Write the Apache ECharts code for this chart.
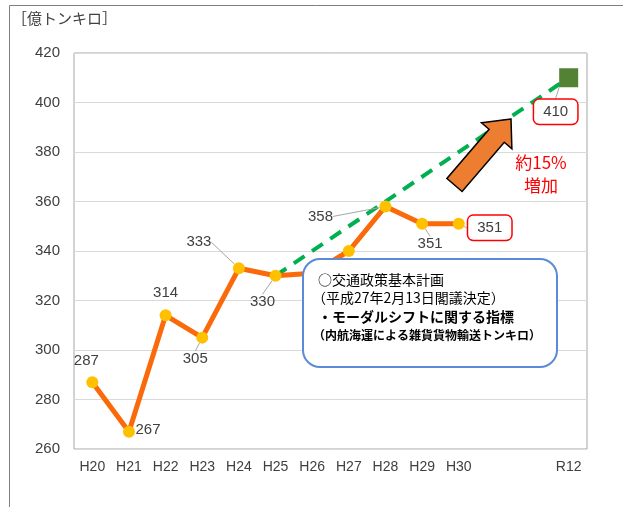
<!DOCTYPE html>
<html>
<head>
<meta charset="utf-8">
<style>
  html, body { margin: 0; padding: 0; background: #fff; }
  #chart { width: 623px; height: 507px; }
</style>
<script src="https://cdn.jsdelivr.net/npm/echarts@6/dist/echarts.min.js"></script>
</head>
<body>
<div id="chart"></div>
<script>
// Fiscal years (H = Heisei, R = Reiwa); two empty slots keep R12 spaced apart
const categories = ['H20', 'H21', 'H22', 'H23', 'H24', 'H25', 'H26', 'H27', 'H28', 'H29', 'H30', '', '', 'R12'];
// Coastal shipping of general cargo, 100 million ton-km
const actual = [287, 267, 314, 305, 333, 330, 331, 340, 358, 351, 351, '-', '-', '-'];
// Target path from H25 to R12
const target = ['-', '-', '-', '-', '-', 330, '-', '-', '-', '-', '-', '-', '-', 410];
const yTicks = { min: 260, max: 420, interval: 20 };

const unitLabel = '［億トンキロ］';
const noteLines = [
  '○交通政策基本計画',
  '（平成27年2月13日閣議決定）',
  '・モーダルシフトに関する指標',
  '（内航海運による雑貨貨物輸送トンキロ）'
];
const growthText = ['約15%', '増加'];

// label placement for the actual series: [dx, dy, leader line]
const labelPlace = {
  0: [-6, -21, false],
  1: [19, -2, false],
  2: [0, -22, false],
  3: [-7, 21, true],
  4: [-40, -26, true],
  5: [-13, 26, true],
  8: [-65, 10, true],
  9: [8, 20, true],
  10: [31, 4, true]
};

const FONT = 'Liberation Sans, Arial, sans-serif';
const CJK = 'Noto Sans CJK JP, sans-serif';

const boxedLabel = {
  show: true,
  borderColor: '#ff0000',
  borderWidth: 1.5,
  borderRadius: 5,
  padding: [5, 9, 4, 9],
  backgroundColor: '#fff'
};

const chart = echarts.init(document.getElementById('chart'));

const actualData = actual.map((v, i) => {
  const p = labelPlace[i];
  const item = { value: v };
  if (p) {
    item.label = i === 10 ? boxedLabel : { show: true };
    item.labelLine = { show: p[2] };
  } else {
    item.label = { show: false };
  }
  return item;
});

const targetData = target.map((v, i) => {
  if (i === 13) {
    return {
      value: v,
      symbol: 'rect',
      symbolSize: 19,
      itemStyle: { color: '#548235' },
      label: boxedLabel,
      labelLine: { show: true }
    };
  }
  return { value: v, symbol: 'none' };
});

chart.setOption({
  animation: false,
  backgroundColor: '#fff',
  grid: {
    left: 74, right: 36, top: 53, bottom: 58,
    show: true, borderColor: '#a6a6a6', borderWidth: 1, backgroundColor: '#fff'
  },
  xAxis: {
    type: 'category',
    data: categories,
    boundaryGap: true,
    axisLine: { show: false },
    axisTick: { show: false },
    axisLabel: { color: '#404040', fontSize: 14, fontFamily: FONT, margin: 11, interval: 0 }
  },
  yAxis: {
    type: 'value',
    min: yTicks.min, max: yTicks.max, interval: yTicks.interval,
    axisLine: { show: false },
    axisTick: { show: false },
    splitLine: { lineStyle: { color: '#d9d9d9', width: 1 } },
    axisLabel: { color: '#404040', fontSize: 15, fontFamily: FONT, margin: 14 }
  },
  series: [
    {
      name: 'target',
      type: 'line',
      data: targetData,
      connectNulls: true,
      z: 2,
      lineStyle: { color: '#00b050', width: 4, type: [13, 9] },
      label: { color: '#404040', fontSize: 15, fontFamily: FONT, position: 'inside' },
      labelLine: { show: true, lineStyle: { color: '#a6a6a6', width: 1 } },
      labelLayout: function () {
        return { dx: -13, dy: 34 };
      }
    },
    {
      name: 'actual',
      type: 'line',
      data: actualData,
      z: 3,
      symbol: 'circle',
      symbolSize: 12,
      showAllSymbol: true,
      lineStyle: { color: '#fa6a0a', width: 5 },
      itemStyle: { color: '#ffc000', borderWidth: 0 },
      label: { color: '#404040', fontSize: 15, fontFamily: FONT, position: 'inside' },
      labelLine: { show: true, lineStyle: { color: '#a6a6a6', width: 1 } },
      labelLayout: function (p) {
        const pl = labelPlace[p.dataIndex];
        return pl ? { dx: pl[0], dy: pl[1] } : {};
      }
    }
  ]
});

// arrow and note box drawn on top of the plot
function arrowPoints(tip, tail, headLen, headHalf, shaftHalf) {
  const dx = tip[0] - tail[0], dy = tip[1] - tail[1];
  const len = Math.sqrt(dx * dx + dy * dy);
  const d = [dx / len, dy / len];
  const n = [-d[1], d[0]];
  const h = [tip[0] - headLen * d[0], tip[1] - headLen * d[1]];
  const at = (base, k) => [base[0] + k * n[0], base[1] + k * n[1]];
  return [tip, at(h, -headHalf), at(h, -shaftHalf), at(tail, -shaftHalf),
          at(tail, shaftHalf), at(h, shaftHalf), at(h, headHalf)];
}

chart.setOption({
  graphic: [
    // outer frame
    { type: 'polyline', z: 1, shape: { points: [[9.5, 507], [9.5, 5.5], [623, 5.5]] },
      style: { stroke: '#7f7f7f', lineWidth: 1, fill: null } },
    { type: 'text', x: 12, y: 11, z: 10,
      style: { text: unitLabel, fill: '#404040', font: '15px ' + CJK } },
    { type: 'polygon', z: 20,
      shape: { points: arrowPoints([511, 119], [454.5, 185], 22, 20, 10) },
      style: { fill: '#ed7d31', stroke: '#000', lineWidth: 1.5 } },
    { type: 'text', x: 541, y: 163, z: 20,
      style: { text: growthText[0], fill: '#ff0000', font: '17px ' + CJK, align: 'center', verticalAlign: 'middle' } },
    { type: 'text', x: 541, y: 186, z: 20,
      style: { text: growthText[1], fill: '#ff0000', font: '17px ' + CJK, align: 'center', verticalAlign: 'middle' } },
    { type: 'rect', z: 30,
      shape: { x: 303, y: 259, width: 254, height: 108, r: 17 },
      style: { fill: '#fff', stroke: '#5b8bd6', lineWidth: 2 } },
    { type: 'text', x: 318, y: 280, z: 31,
      style: { text: noteLines[0], fill: '#000', font: '14px ' + CJK, verticalAlign: 'middle' } },
    { type: 'text', x: 312, y: 298, z: 31,
      style: { text: noteLines[1], fill: '#000', font: '14px ' + CJK, verticalAlign: 'middle' } },
    { type: 'text', x: 318, y: 317, z: 31,
      style: { text: noteLines[2], fill: '#000', font: 'bold 14px ' + CJK, verticalAlign: 'middle' } },
    { type: 'text', x: 313, y: 335, z: 31,
      style: { text: noteLines[3], fill: '#000', font: 'bold 12px ' + CJK, verticalAlign: 'middle' } }
  ]
});
</script>
</body>
</html>
